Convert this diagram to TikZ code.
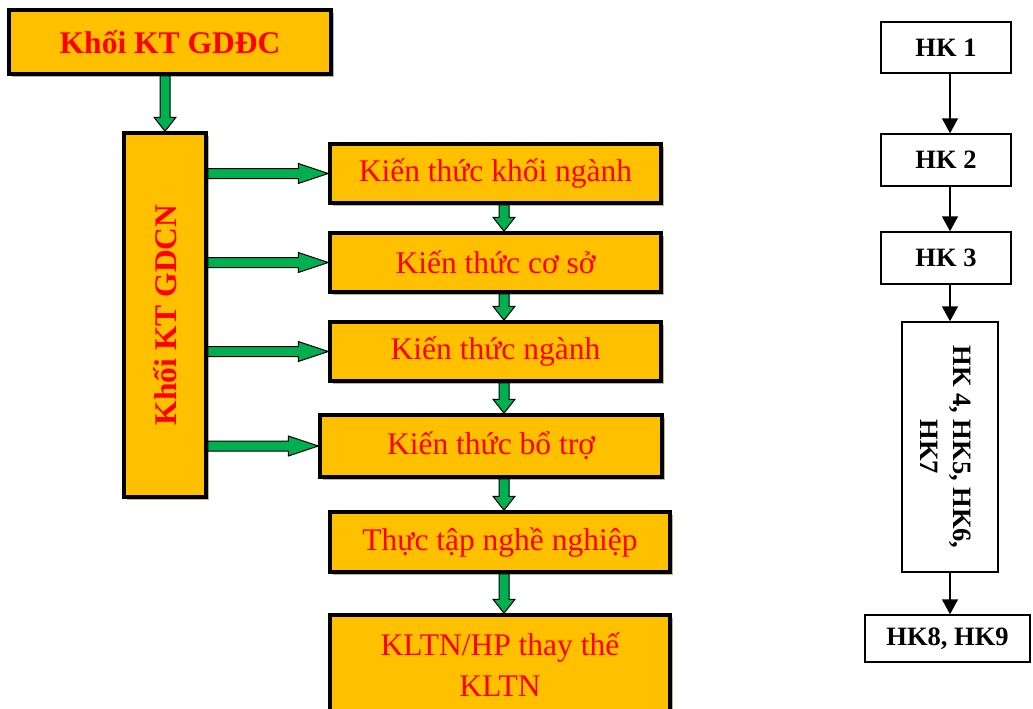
\documentclass[tikz,border=0pt]{standalone}
\usepackage{fontspec}
\setmainfont{Liberation Serif}
\usetikzlibrary{arrows.meta,calc,shadows}
\definecolor{boxfill}{HTML}{FFC000}
\definecolor{arrgreen}{HTML}{00B050}
\definecolor{shadowc}{RGB}{190,180,150}
\tikzset{
  obox/.style={draw=black, line width=3.5pt, fill=boxfill, text=red, inner sep=0pt, align=center,
    drop shadow={shadow xshift=3pt, shadow yshift=-3pt, fill=shadowc, opacity=1}},
  bigtxt/.style={font=\fontsize{31.5}{36}\selectfont\bfseries},
  regtxt/.style={font=\fontsize{31.5}{41}\selectfont},
  hbox/.style={draw=black, line width=1.5pt, fill=white, inner sep=0pt, align=center,
    font=\fontsize{26.5}{32}\selectfont\bfseries},
  blk/.style={line width=1.5pt, -{Triangle[length=15pt,width=16pt]}},
  fatdown/.style={draw=black, line width=1pt, fill=arrgreen, to path={let \p1=(\tikztostart), \p2=(\tikztotarget) in
    (\x1-5pt,\y1) -- (\x1-5pt,\y2+14pt) -- (\x1-11pt,\y2+14pt) -- (\x1,\y2) -- (\x1+11pt,\y2+14pt)
    -- (\x1+5pt,\y2+14pt) -- (\x1+5pt,\y1) -- cycle}},
  fatright/.style={draw=black, line width=1pt, fill=arrgreen, to path={let \p1=(\tikztostart), \p2=(\tikztotarget) in
    (\x1,\y1-5pt) -- (\x2-30pt,\y1-5pt) -- (\x2-30pt,\y1-10pt) -- (\x2,\y1) -- (\x2-30pt,\y1+10pt)
    -- (\x2-30pt,\y1+5pt) -- (\x1,\y1+5pt) -- cycle}},
}
\begin{document}
\begin{tikzpicture}[x=1pt,y=-1pt]
\clip (0,0) rectangle (1033,709);
\fill[white] (0,0) rectangle (1033,709);
% left column
\node[obox, bigtxt, minimum width=322pt, minimum height=64pt] (gddc) at (170,42) {Khối KT GDĐC};
\node[obox, minimum width=82pt, minimum height=364pt] (gdcn) at (165,315) {};
\node[bigtxt, text=red, rotate=90] (gdcnt) at (gdcn.center) {Khối KT GDCN};
\node[obox, regtxt, minimum width=331pt, minimum height=59pt] (k1) at (495.5,173.5) {Kiến thức khối ngành};
\node[obox, regtxt, minimum width=331pt, minimum height=59pt] (k2) at (495.5,262.5) {Kiến thức cơ sở};
\node[obox, regtxt, minimum width=331pt, minimum height=59pt] (k3) at (495.5,351.5) {Kiến thức ngành};
\node[obox, regtxt, minimum width=342pt, minimum height=62pt] (k4) at (491,446) {Kiến thức bổ trợ};
\node[obox, regtxt, minimum width=340pt, minimum height=60pt] (k5) at (500,542) {Thực tập nghề nghiệp};
\node[obox, regtxt, minimum width=340pt, minimum height=100pt] (k6) at (500,665) {KLTN/HP thay thế\\KLTN};
\coordinate (ax) at (504,0);
\draw[fatdown] (gddc.south -| gdcn.center) to (gdcn.north);
\draw[fatright] (gdcn.east |- k1) to (k1.west);
\draw[fatright] (gdcn.east |- k2) to (k2.west);
\draw[fatright] (gdcn.east |- k3) to (k3.west);
\draw[fatright] (gdcn.east |- k4) to (k4.west);
\draw[fatdown] (k1.south -| ax) to (k2.north -| ax);
\draw[fatdown] (k2.south -| ax) to (k3.north -| ax);
\draw[fatdown] (k3.south -| ax) to (k4.north -| ax);
\draw[fatdown] (k4.south -| ax) to (k5.north -| ax);
\draw[fatdown] (k5.south -| ax) to (k6.north -| ax);
% right column
\node[hbox, minimum width=130pt, minimum height=51pt] (h1) at (946,47.5) {HK 1};
\node[hbox, minimum width=130pt, minimum height=52pt] (h2) at (946,160) {HK 2};
\node[hbox, minimum width=130pt, minimum height=52pt] (h3) at (946,258) {HK 3};
\node[hbox, minimum width=96pt, minimum height=250pt] (h4) at (950,447) {};
\node[font=\fontsize{26.5}{33}\selectfont\bfseries, align=center, rotate=-90] (h4t) at ([xshift=-4pt]h4.center) {HK 4, HK5, HK6,\\HK7};
\node[hbox, minimum width=165pt, minimum height=47pt] (h8) at (947.5,638.5) {HK8, HK9};
\draw[blk] (h1.south -| h4) -- (h2.north -| h4);
\draw[blk] (h2.south -| h4) -- (h3.north -| h4);
\draw[blk] (h3.south -| h4) -- (h4.north);
\draw[blk] (h4.south) -- (h8.north -| h4);
\end{tikzpicture}
\end{document}
